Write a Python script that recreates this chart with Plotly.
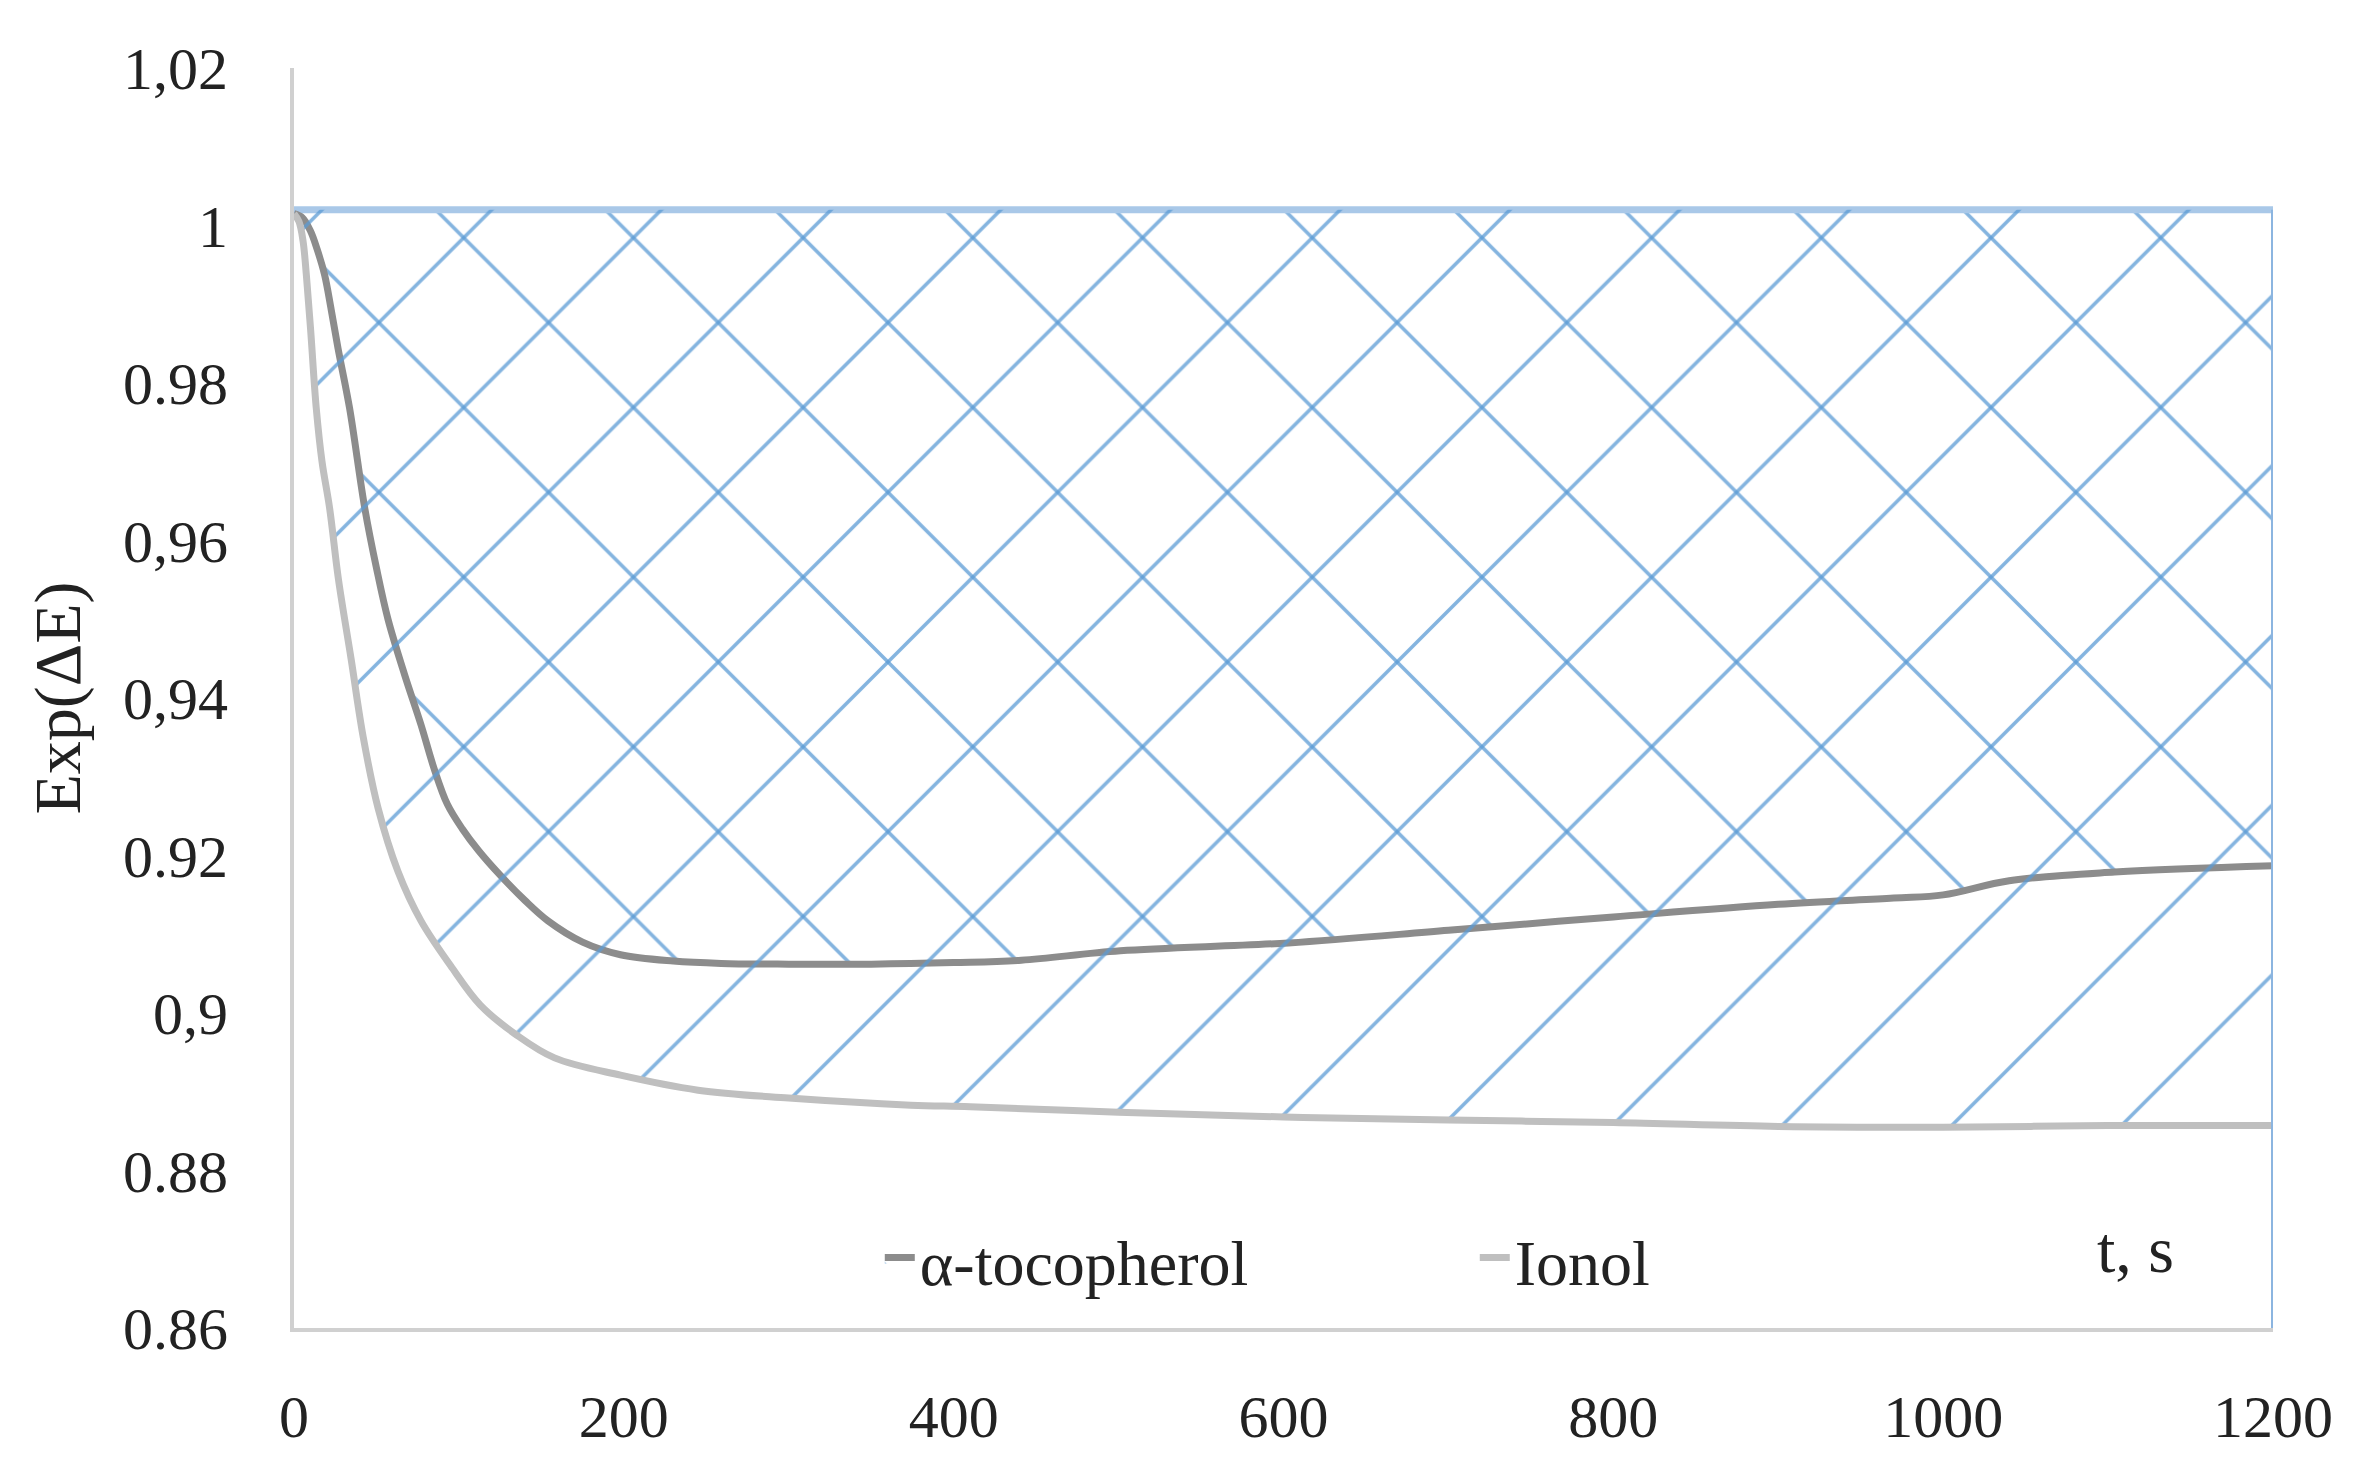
import plotly.graph_objects as go

# ---- data ----
t_alpha = [0, 5, 10, 14, 18.6, 22.4, 26.7, 33.7, 43, 50, 57, 67, 77, 85, 93, 102, 112, 125, 140,
           154, 175, 198, 230, 259, 300, 350, 400, 441, 501, 603, 700, 800, 900, 970, 1000, 1040,
           1104, 1200]
v_alpha = [1.0015, 1.001, 0.9993, 0.997, 0.9937, 0.9895, 0.9844, 0.9768, 0.964, 0.9565, 0.950,
           0.943, 0.9366, 0.931, 0.9265, 0.9234, 0.9206, 0.9175, 0.9143, 0.9117, 0.909, 0.9074,
           0.9066, 0.9063, 0.9062, 0.9062, 0.9064, 0.9067, 0.9079, 0.9089, 0.9105, 0.9122, 0.9138,
           0.9146, 0.915, 0.9168, 0.9179, 0.9187]

t_ionol = [0, 3, 5.5, 7.5, 10, 13.5, 17, 21.6, 27, 34.6, 42, 51, 63, 77, 95, 113, 135, 158, 198,
           245, 300, 374, 410, 500, 600, 700, 800, 900, 1000, 1100, 1200]
v_ionol = [1.0015, 1.0005, 0.998, 0.9937, 0.987, 0.9768, 0.970, 0.9641, 0.955, 0.945, 0.935, 0.926,
           0.918, 0.9117, 0.906, 0.901, 0.8972, 0.8943, 0.8921, 0.8902, 0.8892, 0.8883, 0.8881,
           0.8874, 0.8868, 0.8864, 0.8861, 0.8856, 0.8855, 0.8857, 0.8857]

top_level = 1.002
x_range = [0, 1200]
y_range = [0.86, 1.02]
x_ticks = [0, 200, 400, 600, 800, 1000, 1200]
y_ticks = [0.86, 0.88, 0.90, 0.92, 0.94, 0.96, 0.98, 1.00, 1.02]
y_ticktext = ["0.86", "0.88", "0,9", "0.92", "0,94", "0,96", "0.98", "1", "1,02"]

FONT = "Liberation Serif"
TXT = "#222222"
HATCH = "#5b9bd5"

fig = go.Figure()

# top boundary of the hatched regions
fig.add_trace(go.Scatter(x=x_range, y=[top_level, top_level], mode="lines",
                         line=dict(color="#a9c8e8", width=7), showlegend=False, hoverinfo="skip"))
fig.add_trace(go.Scatter(x=t_alpha, y=v_alpha, mode="lines", name="α-tocopherol",
                         line=dict(color="#8c8c8c", width=7, shape="spline", smoothing=1.0),
                         fill="tonexty", fillcolor="rgba(0,0,0,0)",
                         fillpattern=dict(shape="\\", size=120, solidity=0.03, fgcolor=HATCH,
                                          fgopacity=0.75)))
fig.add_trace(go.Scatter(x=x_range, y=[top_level, top_level], mode="lines",
                         line=dict(color="rgba(0,0,0,0)", width=0), showlegend=False, hoverinfo="skip"))
fig.add_trace(go.Scatter(x=t_ionol, y=v_ionol, mode="lines", name="Ionol",
                         line=dict(color="#bfbfbf", width=7, shape="spline", smoothing=1.0),
                         fill="tonexty", fillcolor="rgba(0,0,0,0)",
                         fillpattern=dict(shape="/", size=120, solidity=0.03, fgcolor=HATCH,
                                          fgopacity=0.75)))
# right edge of hatched block
fig.add_trace(go.Scatter(x=[x_range[1], x_range[1]], y=[y_range[0], top_level], mode="lines",
                         line=dict(color="#8cb5e0", width=4), showlegend=False, hoverinfo="skip"))

fig.add_annotation(text="t, s", xref="paper", yref="paper", x=0.951, y=0.032,
                   showarrow=False, font=dict(family=FONT, size=66, color=TXT))

fig.update_layout(
    width=2360, height=1462,
    margin=dict(l=286, r=95, t=60, b=142),
    paper_bgcolor="white", plot_bgcolor="white",
    font=dict(family=FONT, size=60, color=TXT),
    legend=dict(orientation="h", x=0.296, y=0.054, xanchor="left", yanchor="middle",
                bgcolor="rgba(255,255,255,0)", font=dict(family=FONT, size=64, color=TXT),
                entrywidth=550, entrywidthmode="pixels", traceorder="normal"),
    xaxis=dict(range=x_range, tickvals=x_ticks, showgrid=False, zeroline=False,
               showline=True, linecolor="#d0d0d0", linewidth=4, ticks="",
               ticklabelstandoff=33, tickfont=dict(family=FONT, size=60, color=TXT)),
    yaxis=dict(range=y_range, tickvals=y_ticks, ticktext=y_ticktext, showgrid=False,
               zeroline=False, showline=True, linecolor="#d0d0d0", linewidth=4, ticks="",
               ticklabelstandoff=50, tickfont=dict(family=FONT, size=60, color=TXT),
               title=dict(text="Exp(ΔE)", standoff=22, font=dict(family=FONT, size=66, color=TXT))),
)

fig.write_html("out.html")
